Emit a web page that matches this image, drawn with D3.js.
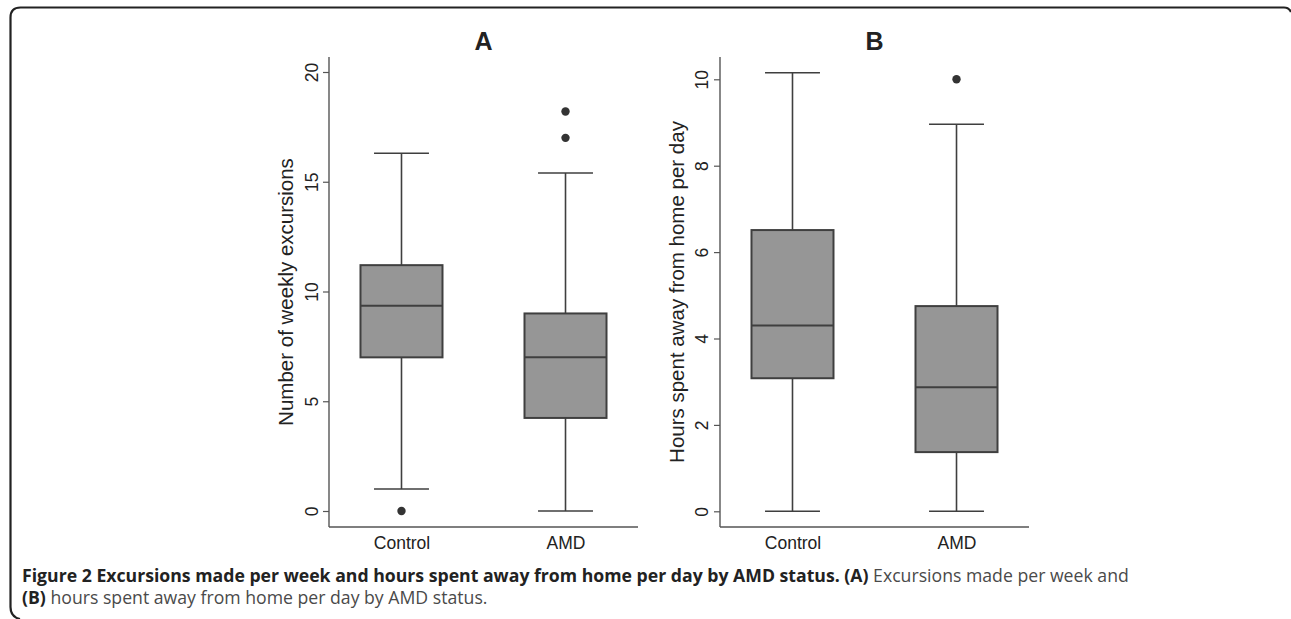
<!DOCTYPE html>
<html><head><meta charset="utf-8">
<script src="https://cdn.jsdelivr.net/npm/d3@7"></script>
<style>body{margin:0;background:#fff}svg{display:block}</style>
</head><body>
<svg id="c" width="1291" height="619"></svg>
<script>
// ---- data ----
const groups = ["Control", "AMD"];
// Panel A: number of weekly excursions
const excLowWhisker = [1.0, 0.0];
const excQ1 = [7.0, 4.24];
const excMedian = [9.35, 7.0];
const excQ3 = [11.2, 9.0];
const excHighWhisker = [16.3, 15.4];
const excOutliers = [[0.0], [17.0, 18.2]];
const excTicks = [0, 5, 10, 15, 20];
// Panel B: hours spent away from home per day
const hrsLowWhisker = [0.0, 0.0];
const hrsQ1 = [3.08, 1.37];
const hrsMedian = [4.3, 2.87];
const hrsQ3 = [6.51, 4.75];
const hrsHighWhisker = [10.15, 8.96];
const hrsOutliers = [[], [10.0]];
const hrsTicks = [0, 2, 4, 6, 8, 10];

const svg = d3.select("#c");

// frame
svg.append("path")
  .attr("d", "M1291,12 Q1289,7.5 1284,7.5 L20.5,7.5 Q10.5,7.5 10.5,17.5 L10.5,607 Q10.5,617 20,619")
  .attr("fill", "none").attr("stroke", "#222").attr("stroke-width", 2.2);

function panel(opts) {
  const {left, right, top, bottom, yDomain, yRange, ticks, title, ylab,
         lo, q1, med, q3, hi, outl, labX, tickX} = opts;
  const g = svg.append("g");
  const x = d3.scalePoint().domain(groups).range([left, right]).padding(0.442);
  const step = x.step();
  const y = d3.scaleLinear().domain(yDomain).range(yRange);
  const font = "'Liberation Sans', Arial, Helvetica, sans-serif";

  // axes lines
  g.append("line").attr("x1", left).attr("x2", left).attr("y1", top).attr("y2", bottom)
    .attr("stroke", "#555").attr("stroke-width", 1.4);
  g.append("line").attr("x1", left).attr("x2", right).attr("y1", bottom).attr("y2", bottom)
    .attr("stroke", "#555").attr("stroke-width", 1.4);

  // y ticks via d3 axis
  const yAxis = d3.axisLeft(y).tickValues(ticks).tickSize(6).tickPadding(4).tickFormat(d3.format("d"));
  const ya = g.append("g").attr("transform", `translate(${left},0)`).call(yAxis);
  ya.attr("font-size", null).attr("font-family", null);
  ya.select(".domain").remove();
  ya.selectAll(".tick line").attr("stroke", "#555").attr("stroke-width", 1.2);
  ya.selectAll(".tick text")
    .attr("x", null)
    .attr("text-anchor", "middle")
    .attr("transform", `translate(${tickX - left},0) rotate(-90)`)
    .attr("dy", "0.36em")
    .style("font-family", font).style("font-size", "17.5px").attr("fill", "#222");

  // x labels
  const xAxis = d3.axisBottom(x).tickSize(0).tickPadding(10);
  const xa = g.append("g").attr("transform", `translate(0,${bottom})`).call(xAxis);
  xa.attr("font-size", null).attr("font-family", null);
  xa.select(".domain").remove();
  xa.selectAll(".tick text").style("font-family", font).style("font-size", "17.5px").attr("fill", "#222");

  // title
  g.append("text").attr("x", (left + right) / 2).attr("y", 50).attr("text-anchor", "middle")
    .attr("font-family", font).attr("font-weight", "bold").attr("font-size", 25).attr("fill", "#222")
    .text(title);
  // y label
  g.append("text").attr("transform", `translate(${labX},${(top + bottom) / 2}) rotate(-90)`)
    .attr("text-anchor", "middle").attr("dy", "0.35em")
    .attr("font-family", font).attr("font-size", 20.5).attr("fill", "#222").text(ylab);

  const stroke = "#3f3f3f";
  groups.forEach((grp, i) => {
    const cx = x(grp);
    const bw = step * 0.5, cw = step * 0.335;
    // whiskers
    g.append("line").attr("x1", cx).attr("x2", cx).attr("y1", y(q3[i])).attr("y2", y(hi[i]))
      .attr("stroke", stroke).attr("stroke-width", 1.6);
    g.append("line").attr("x1", cx).attr("x2", cx).attr("y1", y(q1[i])).attr("y2", y(lo[i]))
      .attr("stroke", stroke).attr("stroke-width", 1.6);
    g.append("line").attr("x1", cx - cw / 2).attr("x2", cx + cw / 2).attr("y1", y(hi[i])).attr("y2", y(hi[i]))
      .attr("stroke", stroke).attr("stroke-width", 1.6);
    g.append("line").attr("x1", cx - cw / 2).attr("x2", cx + cw / 2).attr("y1", y(lo[i])).attr("y2", y(lo[i]))
      .attr("stroke", stroke).attr("stroke-width", 1.6);
    // box
    g.append("rect").attr("x", cx - bw / 2).attr("width", bw)
      .attr("y", y(q3[i])).attr("height", y(q1[i]) - y(q3[i]))
      .attr("fill", "#969696").attr("stroke", stroke).attr("stroke-width", 2);
    g.append("line").attr("x1", cx - bw / 2).attr("x2", cx + bw / 2).attr("y1", y(med[i])).attr("y2", y(med[i]))
      .attr("stroke", stroke).attr("stroke-width", 2);
    // outliers
    g.selectAll(null).data(outl[i]).enter().append("circle")
      .attr("cx", cx).attr("cy", d => y(d)).attr("r", 4.2).attr("fill", "#333");
  });
}

panel({left: 329, right: 638, top: 57, bottom: 527, yDomain: [0, 20], yRange: [511, 72],
  ticks: excTicks, title: "A", ylab: "Number of weekly excursions", labX: 286, tickX: 312,
  lo: excLowWhisker, q1: excQ1, med: excMedian, q3: excQ3, hi: excHighWhisker, outl: excOutliers});
panel({left: 720, right: 1029, top: 57, bottom: 527, yDomain: [0, 10], yRange: [511.3, 79.3],
  ticks: hrsTicks, title: "B", ylab: "Hours spent away from home per day", labX: 677, tickX: 702,
  lo: hrsLowWhisker, q1: hrsQ1, med: hrsMedian, q3: hrsQ3, hi: hrsHighWhisker, outl: hrsOutliers});

// caption
const capFont = "'Open Sans', 'Noto Sans', sans-serif";
function capLine(yb, parts) {
  const t = svg.append("text").attr("x", 22).attr("y", yb).attr("font-family", capFont).attr("font-size", 16);
  parts.forEach(p => t.append("tspan").attr("font-weight", p.b ? "bold" : "normal")
    .attr("fill", p.b ? "#222" : "#4a4a4a").text(p.t));
  return t;
}
const l1 = capLine(581.5, [
  {b: true, t: "Figure 2 Excursions made per week and hours spent away from home per day by AMD status. (A)"},
  {b: false, t: " Excursions made per week and"}]);
const l2 = capLine(604, [
  {b: true, t: "(B)"},
  {b: false, t: " hours spent away from home per day by AMD status."}]);
// fit first line to reference width
const w = l1.node().getComputedTextLength();
const fs = 16 * 1108 / w;
l1.attr("font-size", fs); l2.attr("font-size", fs);
</script>
</body></html>
